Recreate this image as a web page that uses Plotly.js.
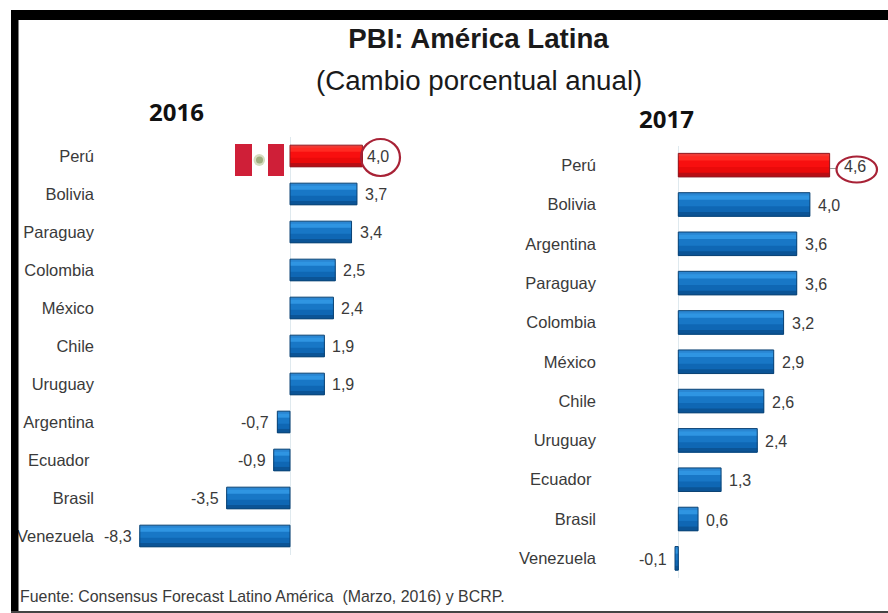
<!DOCTYPE html>
<html>
<head>
<meta charset="utf-8">
<script src="https://cdn.plot.ly/plotly-3.0.1.min.js"></script>
<style>html,body{margin:0;padding:0;background:#fff}</style>
</head>
<body>
<div id="chart" style="width:888px;height:613px"></div>
<script>
// GDP growth forecasts for Latin America, percent per year
const countries2016 = ["Perú","Bolivia","Paraguay","Colombia","México","Chile","Uruguay","Argentina","Ecuador","Brasil","Venezuela"];
const values2016 = [4.0,3.7,3.4,2.5,2.4,1.9,1.9,-0.7,-0.9,-3.5,-8.3];
const tickLabels2016 = ["Perú","Bolivia","Paraguay","Colombia","México","Chile","Uruguay","Argentina","Ecuador\u00a0","Brasil","Venezuela"];

const countries2017 = ["Perú","Bolivia","Argentina","Paraguay","Colombia","México","Chile","Uruguay","Ecuador","Brasil","Venezuela"];
const values2017 = [4.6,4.0,3.6,3.6,3.2,2.9,2.6,2.4,1.3,0.6,-0.1];
const tickLabels2017 = ["Perú","Bolivia","Argentina","Paraguay","Colombia","México","Chile","Uruguay","Ecuador\u00a0","Brasil","Venezuela"];

const W = 888, H = 613;
const px = x => x / W;
const py = y => 1 - y / H;

const TEXT = "#3a3a3a";

// Shading strips of a bar, top to bottom: [start, Peru colour, other colour]
const BANDS = [
  [0.00, "#f23a34", "#2a86d2"],
  [0.12, "#ff2a22", "#2f95e2"],
  [0.30, "#f80f0f", "#1877c6"],
  [0.58, "#ea0a0a", "#0f67b4"],
  [0.82, "#b80d14", "#0b5496"]
];
const EDGE_PERU = "#8f1a22", EDGE_OTHER = "#0c4374";

const perCountry = (cats, peru, other) => cats.map(c => c === "Perú" ? peru : other);

// Each strip runs to the bar's lower edge and is covered by the next, then a hollow outline goes on top
function bevelBars(cats, vals, xa, ya, bodyWidth) {
  const common = {type: "bar", orientation: "h", x: vals, y: cats, xaxis: xa, yaxis: ya,
                  hoverinfo: "skip", showlegend: false};
  const strips = BANDS.map(([a, peru, other]) => Object.assign({}, common, {
    width: (1 - a) * bodyWidth,
    offset: -bodyWidth / 2 + a * bodyWidth,
    marker: {color: perCountry(cats, peru, other), line: {width: 0}}
  }));
  const outline = Object.assign({}, common, {
    width: bodyWidth,
    marker: {color: "rgba(0,0,0,0)", line: {width: 1, color: perCountry(cats, EDGE_PERU, EDGE_OTHER)}}
  });
  return [...strips, outline];
}

const data = [
  ...bevelBars(countries2016, values2016, "x", "y", 0.57),
  ...bevelBars(countries2017, values2017, "x2", "y2", 0.60)
];

// Value labels sit just beyond the bar end; Peru's is spaced to fit its ring
function valueLabels(cats, vals, xa, ya, gap, peruGap, dy) {
  return cats.map((c, i) => {
    const g = c === "Perú" ? peruGap : gap;
    return {
      x: vals[i], y: c, xref: xa, yref: ya, showarrow: false,
      text: vals[i].toFixed(1).replace(".", ","),
      xanchor: vals[i] < 0 ? "right" : "left",
      xshift: vals[i] < 0 ? -g : g, yshift: dy,
      font: {family: "Liberation Sans", size: 16, color: TEXT}
    };
  });
}

const textNote = (text, x, y, size, anchor, family, bold, color) => ({
  xref: "paper", yref: "paper", x: px(x), y: py(y), showarrow: false, xanchor: anchor, yanchor: "middle",
  text: bold ? "<b>" + text + "</b>" : text, font: {family, size, color}
});

const annotations = [
  ...valueLabels(countries2016, values2016, "x", "y", 6, 3, 0),
  ...valueLabels(countries2017, values2017, "x2", "y2", 6, 12, -1),
  textNote("(Cambio porcentual anual)", 479, 80, 27.7, "center", "Liberation Sans", false, "#1a1a1a"),
  textNote("2016", 176, 111, 24, "center", "Open Sans", true, "#111"),
  textNote("2017", 666, 119, 24, "center", "Open Sans", true, "#111"),
  textNote("Fuente: Consensus Forecast Latino América  (Marzo, 2016) y BCRP.", 18, 596, 15.9, "left", "Liberation Sans", false, TEXT)
];

const rect = (x0, y0, x1, y1, fill) => ({
  type: "rect", xref: "paper", yref: "paper", layer: "above",
  x0: px(x0), x1: px(x1), y0: py(y0), y1: py(y1), fillcolor: fill, line: {width: 0}
});
const disc = (x0, y0, x1, y1, fill) => ({
  type: "circle", xref: "paper", yref: "paper", layer: "above",
  x0: px(x0), x1: px(x1), y0: py(y0), y1: py(y1), fillcolor: fill, line: {width: 0}
});
const ring = (x0, y0, x1, y1) => ({
  type: "circle", xref: "paper", yref: "paper", layer: "above",
  x0: px(x0), x1: px(x1), y0: py(y0), y1: py(y1), fillcolor: "rgba(0,0,0,0)",
  line: {width: 2.2, color: "#a82236"}
});

const shapes = [
  // Peruvian flag next to the 2016 bar
  rect(235, 144, 252, 176, "#cf1f38"),
  rect(268, 144, 284, 176, "#cf1f38"),
  disc(253.5, 154, 265, 166, "#d5dcc0"),
  disc(256, 156.5, 263, 163.5, "#9fae80"),
  // Rings round the Peru values, with the short leader on the 2017 bar
  ring(361, 139, 400, 176),
  rect(830, 168, 836, 169, "#999"),
  ring(836.5, 156.5, 877, 182.5),
  // Frame
  rect(11, 10, 888, 20, "#000"),
  rect(11, 10, 18.5, 612, "#000"),
  rect(11, 611, 888, 613, "#444")
];

// Axis scales: 18.1 px per point in 2016, 32.9 px per point in 2017
const axisX = (left, right, zero, scale) => ({
  domain: [px(left), px(right)],
  range: [(left - zero) / scale, (right - zero) / scale],
  showgrid: false, showticklabels: false, ticks: "", showline: false,
  zeroline: true, zerolinecolor: "#dfe9ee", zerolinewidth: 1
});
const axisY = (cats, labels, top, bottom, xAnchor) => ({
  anchor: xAnchor, domain: [py(bottom), py(top)], type: "category", autorange: "reversed",
  categoryorder: "array", categoryarray: cats, tickmode: "array", tickvals: cats, ticktext: labels,
  showgrid: false, ticks: "", showline: false, zeroline: false,
  tickfont: {family: "Liberation Sans", size: 16.5, color: TEXT}
});

const layout = {
  width: W, height: H, margin: {l: 0, r: 0, t: 0, b: 0},
  paper_bgcolor: "#fff", plot_bgcolor: "rgba(0,0,0,0)",
  barmode: "overlay", showlegend: false,
  title: {
    text: "<b>PBI: América Latina</b>",
    x: px(478.5), xanchor: "center", y: py(38), yanchor: "middle",
    font: {family: "Liberation Sans", size: 27.7, color: "#1a1a1a"}
  },
  xaxis: axisX(95, 420, 290, 18.1),
  yaxis: axisY(countries2016, tickLabels2016, 137, 555, "x"),
  xaxis2: Object.assign(axisX(597, 885, 678.3, 32.9), {anchor: "y2"}),
  yaxis2: axisY(countries2017, tickLabels2017, 145.5, 578, "x2"),
  annotations, shapes
};

Plotly.newPlot("chart", data, layout, {displayModeBar: false, staticPlot: true});
</script>
</body>
</html>
